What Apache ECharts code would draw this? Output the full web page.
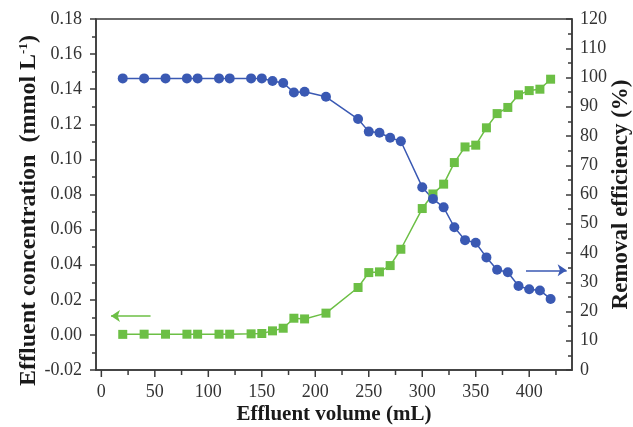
<!DOCTYPE html>
<html>
<head>
<meta charset="utf-8">
<script src="https://cdn.jsdelivr.net/npm/echarts@6/dist/echarts.min.js"></script>
<style>
html,body{margin:0;padding:0;background:#fff;}
#chart{width:633px;height:427px;}
</style>
</head>
<body>
<div id="chart"></div>
<script>
// Effluent volume (mL)
const volume = [20,40,60,80,90,110,120,140,150,160,170,180,190,210,240,250,260,270,280,300,310,320,330,340,350,360,370,380,390,400,410,420];
// Effluent concentration (mmol/L) - left axis (green squares)
const concentration = [0.0003,0.0004,0.0004,0.0004,0.0004,0.0004,0.0004,0.0006,0.0008,0.0023,0.0038,0.0095,0.0091,0.0124,0.0270,0.0355,0.0359,0.0395,0.0488,0.0720,0.0803,0.0859,0.0982,0.1071,0.1081,0.1180,0.1261,0.1296,0.1368,0.1392,0.1400,0.1457];
// Removal efficiency (%) - right axis (blue circles)
const removal = [99.7,99.7,99.7,99.7,99.7,99.7,99.7,99.7,99.7,98.8,98.1,94.9,95.1,93.4,85.8,81.5,81.1,79.4,78.2,62.5,58.5,55.6,48.8,44.4,43.5,38.5,34.3,33.4,28.7,27.6,27.2,24.3];
// X axis range and tick labels
const xRange = [-5, 440];
const xLabels = [0,50,100,150,200,250,300,350,400];
const xTickValues = [0,25,50,75,100,125,150,175,200,225,250,275,300,325,350,375,400,425];
// Arrow annotations (data coordinates)
const greenArrow = [[46,0.0108],[9,0.0108]];
const blueArrow = [[397,34.1],[435,34.1]];

const GREEN = '#6cbf45';
const BLUE = '#3a59b3';
const AX = '#3a3a3a';
const FONT = 'Liberation Serif';
const Y_MIN = -0.02;

const greenData = volume.map((v,i)=>[v,concentration[i]]);
const blueData = volume.map((v,i)=>[v,removal[i]]);

const chart = echarts.init(document.getElementById('chart'));
chart.setOption({
  animation:false,
  backgroundColor:'#fff',
  grid:{left:96, right:61, top:19, bottom:57, outerBoundsMode:'none', containLabel:false,
        show:true, borderColor:AX, borderWidth:1.5, backgroundColor:'transparent'},
  xAxis:{
    type:'value', min:xRange[0], max:xRange[1], position:'bottom',
    name:'Effluent volume (mL)', nameLocation:'middle', nameGap:34, nameMoveOverlap:false,
    nameTextStyle:{fontFamily:FONT,fontWeight:'bold',fontSize:21,color:'#1a1a1a'},
    axisLine:{show:true,onZero:false,lineStyle:{color:AX,width:1.5}},
    axisTick:{show:false},
    axisLabel:{show:true,customValues:xLabels,margin:13,fontFamily:FONT,fontSize:18,color:'#333'},
    splitLine:{show:false}
  },
  yAxis:[
    {
      type:'value', min:Y_MIN, max:0.18, interval:0.02, position:'left',
      name:'Effluent concentration  (mmol L{sup|-1})', nameLocation:'middle', nameGap:55, nameRotate:90, nameMoveOverlap:false,
      nameTextStyle:{fontFamily:FONT,fontWeight:'bold',fontSize:24,color:'#1a1a1a',padding:[0,32,0,0],
        rich:{sup:{fontFamily:FONT,fontWeight:'bold',fontSize:13,verticalAlign:'top',padding:[0,0,10,0],color:'#1a1a1a'}}},
      axisLine:{show:true,onZero:false,lineStyle:{color:AX,width:1.5}},
      axisTick:{show:true,inside:false,length:6,lineStyle:{color:AX,width:1.5}},
      minorTick:{show:true,splitNumber:2,length:4,lineStyle:{color:AX,width:1.5}},
      axisLabel:{margin:14,fontFamily:FONT,fontSize:18,color:'#333',formatter:v=>v.toFixed(2)},
      splitLine:{show:false}
    },
    {
      type:'value', min:0, max:120, interval:10, position:'right',
      name:'Removal efficiency (%)', nameLocation:'middle', nameGap:38, nameRotate:90, nameMoveOverlap:false,
      nameTextStyle:{fontFamily:FONT,fontWeight:'bold',fontSize:23,color:'#1a1a1a'},
      axisLine:{show:true,onZero:false,lineStyle:{color:AX,width:1.5}},
      axisTick:{show:true,inside:true,length:6,lineStyle:{color:AX,width:1.5}},
      minorTick:{show:true,splitNumber:2,length:4,lineStyle:{color:AX,width:1.5}},
      axisLabel:{margin:8,fontFamily:FONT,fontSize:18,color:'#333'},
      splitLine:{show:false}
    }
  ],
  series:[
    {
      // x-axis tick marks, placed through the axis scale
      type:'custom', coordinateSystem:'cartesian2d', xAxisIndex:0, yAxisIndex:0, silent:true, clip:false, z:5,
      encode:{x:0, y:1},
      data:xTickValues.map(v=>[v, Y_MIN]),
      renderItem:function(params, api){
        const v = api.value(0);
        const p = api.coord([v, api.value(1)]);
        const len = (v % 50 === 0) ? 7 : 5;
        return {type:'line', shape:{x1:p[0], y1:p[1], x2:p[0], y2:p[1]+len},
                style:{stroke:AX, lineWidth:1.5}};
      }
    },
    {
      type:'line', xAxisIndex:0, yAxisIndex:0, data:greenData,
      symbol:'rect', symbolSize:9, showAllSymbol:true,
      itemStyle:{color:GREEN}, lineStyle:{color:GREEN,width:1.5},
      markLine:{silent:true,symbol:['none','arrow'],symbolSize:9,label:{show:false},
        lineStyle:{color:GREEN,width:1.5,type:'solid'},
        data:[[{coord:greenArrow[0]},{coord:greenArrow[1]}]]}
    },
    {
      type:'line', xAxisIndex:0, yAxisIndex:1, data:blueData,
      symbol:'circle', symbolSize:10, showAllSymbol:true,
      itemStyle:{color:BLUE}, lineStyle:{color:BLUE,width:1.5},
      markLine:{silent:true,symbol:['none','arrow'],symbolSize:9,label:{show:false},
        lineStyle:{color:BLUE,width:1.5,type:'solid'},
        data:[[{coord:blueArrow[0]},{coord:blueArrow[1]}]]}
    }
  ]
});
</script>
</body>
</html>
